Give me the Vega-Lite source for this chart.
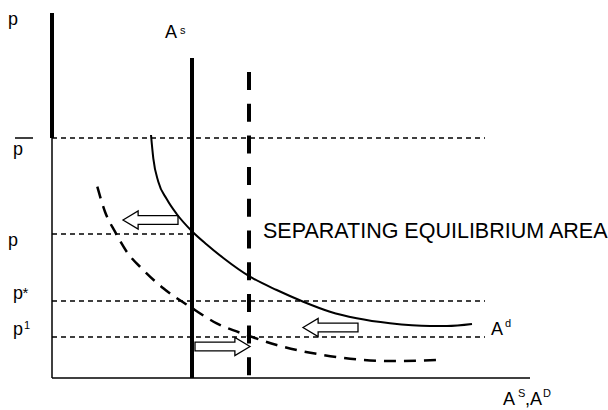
{
  "$schema": "https://vega.github.io/schema/vega-lite/v6.json",
  "width": 478,
  "height": 365,
  "autosize": {"type": "none"},
  "padding": {"left": 52, "top": 13, "right": 78, "bottom": 32},
  "background": "white",
  "config": {"view": {"stroke": null}, "font": "Liberation Sans"},
  "datasets": {
    "hdash": [
      {"name": "pbar", "x": 0, "x2": 433, "y": 240, "y2": 240},
      {"name": "p", "x": 0, "x2": 140, "y": 144, "y2": 144},
      {"name": "pstar", "x": 0, "x2": 433, "y": 77, "y2": 77},
      {"name": "p1", "x": 0, "x2": 433, "y": 41, "y2": 41}
    ],
    "thin": [
      {"name": "yaxis", "x": 0, "x2": 0, "y": 0, "y2": 240},
      {"name": "xaxis", "x": 0, "x2": 478, "y": 0, "y2": 0},
      {"name": "overline", "x": -37, "x2": -19, "y": 240, "y2": 240}
    ],
    "thick": [
      {"name": "yaxis_top", "x": 0, "x2": 0, "y": 240, "y2": 365},
      {"name": "As", "x": 140, "x2": 140, "y": 0, "y2": 320}
    ],
    "vdash": [
      {"name": "As_shifted", "x": 197, "x2": 197, "y": 306, "y2": 0}
    ],
    "Ad": [
      {"x": 99, "y": 243}, {"x": 101.3, "y": 219.7}, {"x": 106.3, "y": 196.3}, {"x": 114.7, "y": 179},
      {"x": 124.7, "y": 164}, {"x": 139.7, "y": 147}, {"x": 154.7, "y": 133.5}, {"x": 171.3, "y": 120},
      {"x": 198, "y": 101.3}, {"x": 224.7, "y": 88}, {"x": 251.3, "y": 76.3}, {"x": 278, "y": 66.3},
      {"x": 304.7, "y": 59.7}, {"x": 338, "y": 54.7}, {"x": 378, "y": 52}, {"x": 395, "y": 52},
      {"x": 420, "y": 54}
    ],
    "Ad2": [
      {"x": 45.3, "y": 191.3}, {"x": 53, "y": 166.3}, {"x": 63, "y": 146.3}, {"x": 74.7, "y": 126.3},
      {"x": 91.3, "y": 108}, {"x": 111.3, "y": 89.7}, {"x": 138, "y": 71.3}, {"x": 164.7, "y": 54.7},
      {"x": 194.7, "y": 43}, {"x": 224.7, "y": 33}, {"x": 271.3, "y": 23}, {"x": 338, "y": 17},
      {"x": 385, "y": 18}
    ],
    "arrows": [
      {"x": 98.5, "y": 158, "dir": "left"},
      {"x": 278.5, "y": 50.5, "dir": "left"},
      {"x": 170.5, "y": 31.5, "dir": "right"}
    ],
    "labels": [
      {"x": -44, "y": 353, "label": "p"},
      {"x": -39, "y": 223, "label": "p"},
      {"x": -44, "y": 132, "label": "p"},
      {"x": -39, "y": 79, "label": "p"},
      {"x": -39, "y": 43, "label": "p"},
      {"x": 113, "y": 340, "label": "A"},
      {"x": 439, "y": 43, "label": "A"},
      {"x": 451, "y": -27, "label": "A"},
      {"x": 473, "y": -27, "label": ",A"}
    ],
    "sups": [
      {"x": 128, "y": 344, "label": "s"},
      {"x": -28, "y": 49, "label": "1"},
      {"x": 453, "y": 51, "label": "d"},
      {"x": 466, "y": -19, "label": "S"},
      {"x": 491, "y": -19, "label": "D"}
    ],
    "stars": [
      {"x": -29.5, "y": 80, "label": "*"}
    ],
    "big": [
      {"x": 211, "y": 140, "label": "SEPARATING EQUILIBRIUM AREA"}
    ]
  },
  "encoding": {
    "x": {"field": "x", "type": "quantitative", "scale": {"domain": [0, 478], "nice": false, "zero": false}, "axis": null},
    "y": {"field": "y", "type": "quantitative", "scale": {"domain": [0, 365], "nice": false, "zero": false}, "axis": null}
  },
  "layer": [
    {
      "data": {"name": "hdash"},
      "mark": {"type": "rule", "color": "black", "strokeWidth": 1.3, "strokeDash": [5, 4]},
      "encoding": {"x2": {"field": "x2"}, "y2": {"field": "y2"}}
    },
    {
      "data": {"name": "thin"},
      "mark": {"type": "rule", "color": "black", "strokeWidth": 1.5},
      "encoding": {"x2": {"field": "x2"}, "y2": {"field": "y2"}}
    },
    {
      "data": {"name": "thick"},
      "mark": {"type": "rule", "color": "black", "strokeWidth": 4},
      "encoding": {"x2": {"field": "x2"}, "y2": {"field": "y2"}}
    },
    {
      "data": {"name": "vdash"},
      "mark": {"type": "rule", "color": "black", "strokeWidth": 4, "strokeDash": [18, 13.7]},
      "encoding": {"x2": {"field": "x2"}, "y2": {"field": "y2"}}
    },
    {
      "data": {"name": "arrows"},
      "mark": {"type": "point", "filled": true, "fill": "white", "stroke": "black", "strokeWidth": 1.3, "size": 3025, "opacity": 1},
      "encoding": {
        "shape": {
          "field": "dir", "type": "nominal", "legend": null,
          "scale": {"domain": ["left", "right"], "range": [
            "M-1,0L-0.45,-0.33L-0.45,-0.16L1,-0.16L1,0.16L-0.45,0.16L-0.45,0.33Z",
            "M1,0L0.45,-0.33L0.45,-0.16L-1,-0.16L-1,0.16L0.45,0.16L0.45,0.33Z"
          ]}
        }
      }
    },
    {
      "data": {"name": "Ad"},
      "mark": {"type": "line", "color": "black", "strokeWidth": 2, "interpolate": "monotone"},
      "encoding": {"order": {"field": "x", "type": "quantitative"}}
    },
    {
      "data": {"name": "Ad2"},
      "mark": {"type": "line", "color": "black", "strokeWidth": 2.5, "strokeDash": [12, 8], "interpolate": "monotone"},
      "encoding": {"order": {"field": "x", "type": "quantitative"}}
    },
    {
      "data": {"name": "labels"},
      "mark": {"type": "text", "align": "left", "baseline": "alphabetic", "fontSize": 18, "color": "black", "font": "Liberation Sans"},
      "encoding": {"text": {"field": "label"}}
    },
    {
      "data": {"name": "sups"},
      "mark": {"type": "text", "align": "left", "baseline": "alphabetic", "fontSize": 11, "color": "black", "font": "Liberation Sans"},
      "encoding": {"text": {"field": "label"}}
    },
    {
      "data": {"name": "stars"},
      "mark": {"type": "text", "align": "left", "baseline": "alphabetic", "fontSize": 15, "color": "black", "font": "Liberation Sans"},
      "encoding": {"text": {"field": "label"}}
    },
    {
      "data": {"name": "big"},
      "mark": {"type": "text", "align": "left", "baseline": "alphabetic", "fontSize": 21.5, "color": "black", "font": "Liberation Sans"},
      "encoding": {"text": {"field": "label"}}
    }
  ]
}
